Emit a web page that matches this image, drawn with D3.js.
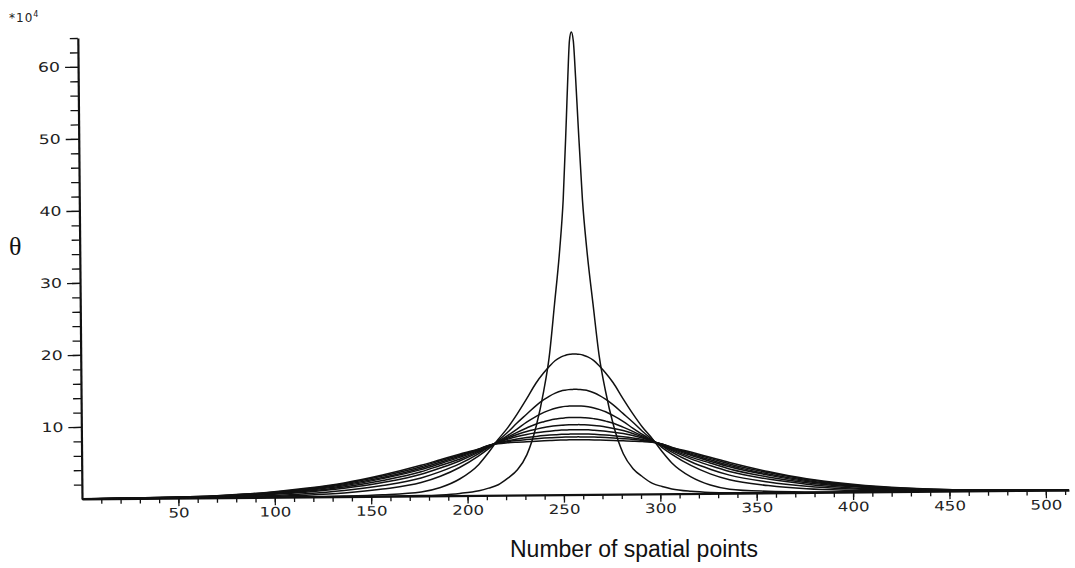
<!DOCTYPE html>
<html>
<head>
<meta charset="utf-8">
<script src="https://cdn.jsdelivr.net/npm/d3@7"></script>
<style>
  body { margin: 0; background: #fff; }
  svg { display: block; }
  .tick text { font-family: "DejaVu Sans", sans-serif; font-size: 13px; fill: #222; }
</style>
</head>
<body>
<svg id="chart" width="1075" height="568"></svg>
<script>
// spatial point index (x) shared by all curves
const xPoints = [0, 56, 76, 96, 116, 136, 156, 176, 186, 196, 206, 211, 216, 221, 226, 231, 236, 240, 243, 246, 249, 251, 253, 254, 255,
  256,
  257, 258, 259, 261, 263, 266, 269, 272, 276, 281, 286, 291, 296, 301, 306, 316, 326, 336, 356, 376, 396, 416, 436, 456, 512];

// theta (x10^4), one array per time step
const curve1 = [0, 0, 0, 0, 0, 0, 0.02, 0.05, 0.12, 0.3, 0.65, 1.0, 1.45, 2.35, 3.5, 5.6, 9.6, 14.4, 19.1, 26.4, 34.1, 40.9, 52.0, 58.0, 63.0,
  64.2,
  63.0, 58.0, 52.0, 40.9, 34.1, 26.4, 19.1, 14.4, 9.6, 5.6, 3.5, 2.35, 1.45, 1.0, 0.65, 0.3, 0.12, 0.05, 0.02, 0, 0, 0, 0, 0, 0];
const curve2 = [0, 0, 0, 0.01, 0.03, 0.07, 0.2, 0.55, 1.15, 2.3, 4.3, 5.9, 7.7, 9.3, 11.2, 13.3, 15.5, 16.9, 17.8, 18.6, 19.1, 19.3, 19.45, 19.48, 19.5,
  19.5,
  19.5, 19.48, 19.45, 19.3, 19.1, 18.6, 17.8, 16.9, 15.5, 13.3, 11.2, 9.3, 7.7, 5.9, 4.3, 2.3, 1.15, 0.55, 0.2, 0.07, 0.03, 0.01, 0, 0, 0];
const curve3 = [0, 0.02, 0.05, 0.12, 0.25, 0.5, 1.0, 1.85, 2.7, 3.9, 5.5, 6.45, 7.55, 8.7, 10.0, 11.2, 12.4, 13.2, 13.7, 14.1, 14.4, 14.5, 14.57, 14.59, 14.6,
  14.6,
  14.6, 14.59, 14.57, 14.5, 14.4, 14.1, 13.7, 13.2, 12.4, 11.2, 10.0, 8.7, 7.55, 6.45, 5.5, 3.9, 2.7, 1.85, 1.0, 0.5, 0.25, 0.12, 0.05, 0.02, 0];
const curve4 = [0, 0.04, 0.1, 0.23, 0.45, 0.85, 1.5, 2.5, 3.35, 4.4, 5.8, 6.65, 7.45, 8.25, 9.15, 10.1, 10.9, 11.45, 11.75, 12.0, 12.18, 12.25, 12.28, 12.29, 12.3,
  12.3,
  12.3, 12.29, 12.28, 12.25, 12.18, 12.0, 11.75, 11.45, 10.9, 10.1, 9.15, 8.25, 7.45, 6.65, 5.8, 4.4, 3.35, 2.5, 1.5, 0.85, 0.45, 0.23, 0.1, 0.04, 0];
const curve5 = [0, 0.07, 0.17, 0.35, 0.65, 1.15, 1.9, 3.0, 3.85, 4.8, 6.0, 6.72, 7.38, 8.05, 8.7, 9.3, 9.85, 10.15, 10.35, 10.5, 10.62, 10.66, 10.69, 10.7, 10.7,
  10.7,
  10.7, 10.7, 10.69, 10.66, 10.62, 10.5, 10.35, 10.15, 9.85, 9.3, 8.7, 8.05, 7.38, 6.72, 6.0, 4.8, 3.85, 3.0, 1.9, 1.15, 0.65, 0.35, 0.17, 0.07, 0];
const curve6 = [0, 0.1, 0.22, 0.45, 0.8, 1.35, 2.2, 3.35, 4.2, 5.05, 6.15, 6.8, 7.33, 7.9, 8.4, 8.82, 9.13, 9.35, 9.47, 9.57, 9.64, 9.67, 9.69, 9.7, 9.7,
  9.7,
  9.7, 9.7, 9.69, 9.67, 9.64, 9.57, 9.47, 9.35, 9.13, 8.82, 8.4, 7.9, 7.33, 6.8, 6.15, 5.05, 4.2, 3.35, 2.2, 1.35, 0.8, 0.45, 0.22, 0.1, 0];
const curve7 = [0.01, 0.12, 0.27, 0.52, 0.9, 1.5, 2.45, 3.65, 4.45, 5.3, 6.25, 6.84, 7.28, 7.75, 8.12, 8.4, 8.61, 8.75, 8.83, 8.9, 8.96, 8.98, 8.99, 9.0, 9.0,
  9.0,
  9.0, 9.0, 8.99, 8.98, 8.96, 8.9, 8.83, 8.75, 8.61, 8.4, 8.12, 7.75, 7.28, 6.84, 6.25, 5.3, 4.45, 3.65, 2.45, 1.5, 0.9, 0.52, 0.27, 0.12, 0.01];
const curve8 = [0.01, 0.14, 0.31, 0.58, 1.0, 1.65, 2.6, 3.85, 4.65, 5.45, 6.35, 6.88, 7.24, 7.55, 7.78, 7.97, 8.12, 8.22, 8.28, 8.33, 8.37, 8.38, 8.39, 8.4, 8.4,
  8.4,
  8.4, 8.4, 8.39, 8.38, 8.37, 8.33, 8.28, 8.22, 8.12, 7.97, 7.78, 7.55, 7.24, 6.88, 6.35, 5.45, 4.65, 3.85, 2.6, 1.65, 1.0, 0.58, 0.31, 0.14, 0.01];
const curve9 = [0.01, 0.16, 0.34, 0.63, 1.1, 1.78, 2.8, 4.05, 4.85, 5.6, 6.4, 6.9, 7.2, 7.42, 7.57, 7.69, 7.8, 7.87, 7.91, 7.95, 7.98, 7.99, 7.99, 8.0, 8.0,
  8.0,
  8.0, 8.0, 7.99, 7.99, 7.98, 7.95, 7.91, 7.87, 7.8, 7.69, 7.57, 7.42, 7.2, 6.9, 6.4, 5.6, 4.85, 4.05, 2.8, 1.78, 1.1, 0.63, 0.34, 0.16, 0.01];
const curve10 = [0.02, 0.17, 0.37, 0.68, 1.2, 1.9, 2.95, 4.25, 5.0, 5.75, 6.45, 6.92, 7.15, 7.26, 7.33, 7.39, 7.45, 7.5, 7.53, 7.56, 7.58, 7.59, 7.6, 7.6, 7.6,
  7.6,
  7.6, 7.6, 7.6, 7.59, 7.58, 7.56, 7.53, 7.5, 7.45, 7.39, 7.33, 7.26, 7.15, 6.92, 6.45, 5.75, 5.0, 4.25, 2.95, 1.9, 1.2, 0.68, 0.37, 0.17, 0.02];

const curves = [curve1, curve2, curve3, curve4, curve5, curve6, curve7, curve8, curve9, curve10];

const xTickLabels = [50, 100, 150, 200, 250, 300, 350, 400, 450, 500];
const yTickLabels = [10, 20, 30, 40, 50, 60];

const svg = d3.select("#chart");
const originX = 82, originY = 499;

const x = d3.scaleLinear().domain([0, 512]).range([0, 987]);
const y = d3.scaleLinear().domain([0, 64]).range([0, -461]);

// the scanned plot is a little tilted
const g = svg.append("g")
  .attr("transform", `translate(${originX},${originY}) rotate(-0.52)`);

// minor ticks
g.append("g")
  .call(d3.axisBottom(x).tickValues(d3.range(10, 512, 10)).tickSize(5).tickFormat("").tickSizeOuter(0))
  .call(a => a.select(".domain").remove());
g.append("g")
  .call(d3.axisLeft(y).tickValues(d3.range(2, 65, 2)).tickSize(8).tickFormat("").tickSizeOuter(0))
  .call(a => a.select(".domain").remove());

// major ticks + labels (plotter font is wide, so stretch the digits)
const xAxis = g.append("g")
  .call(d3.axisBottom(x).tickValues(xTickLabels).tickSize(8).tickPadding(2).tickSizeOuter(0));
xAxis.selectAll(".tick text")
  .attr("textLength", d => String(d).length * 10.6)
  .attr("lengthAdjust", "spacingAndGlyphs");

const yAxis = g.append("g")
  .call(d3.axisLeft(y).tickValues(yTickLabels).tickSize(13).tickPadding(5).tickSizeOuter(0));
yAxis.selectAll(".tick text")
  .attr("textLength", d => String(d).length * 11)
  .attr("lengthAdjust", "spacingAndGlyphs");

g.selectAll(".tick line").attr("stroke", "#111").attr("stroke-width", 1.3);
g.selectAll(".domain").attr("stroke", "#111").attr("stroke-width", 2.2);

// curves
const line = d3.line()
  .x((d, i) => x(xPoints[i]))
  .y(d => y(d))
  .curve(d3.curveMonotoneX);

g.append("g")
  .selectAll("path")
  .data(curves)
  .enter()
  .append("path")
  .attr("d", line)
  .attr("fill", "none")
  .attr("stroke", "#111")
  .attr("stroke-width", 1.5);

// texts
const scaleLabel = svg.append("text")
  .attr("x", 9)
  .attr("y", 22)
  .attr("font-family", "DejaVu Sans, sans-serif")
  .attr("font-size", 12)
  .attr("letter-spacing", 1)
  .attr("fill", "#222");
scaleLabel.append("tspan").text("*10");
scaleLabel.append("tspan").attr("dy", -5).attr("font-size", 8).text("4");

svg.append("text")
  .attr("x", 9)
  .attr("y", 255)
  .attr("font-family", "Liberation Serif, serif")
  .attr("font-size", 26)
  .attr("fill", "#111")
  .text("θ");

svg.append("text")
  .attr("x", 634)
  .attr("y", 557)
  .attr("text-anchor", "middle")
  .attr("font-family", "Liberation Sans, Arial, sans-serif")
  .attr("font-size", 23)
  .attr("fill", "#111")
  .text("Number of spatial points");
</script>
</body>
</html>
